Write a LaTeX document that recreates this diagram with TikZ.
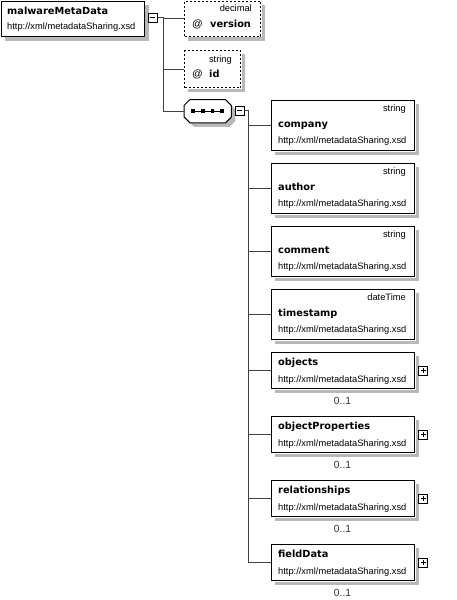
\documentclass[tikz,border=0pt]{standalone}
\usepackage{fontspec}
\setmainfont{Liberation Sans}
\newfontfamily\namefont{DejaVu Sans}
\usetikzlibrary{calc}
\definecolor{shad}{HTML}{B8B8B8}
\definecolor{connc}{HTML}{404040}
\tikzset{
  bx/.style={draw=black, fill=white, line width=1pt, inner sep=0pt, anchor=north west},
  attbox/.style={bx, dash pattern=on 2pt off 2pt},
  nm/.style={font=\namefont\bfseries\fontsize{9.8}{11}\selectfont, inner sep=0pt, anchor=base west},
  url/.style={font=\fontsize{9.3}{11}\selectfont, inner sep=0pt, anchor=base west},
  typ/.style={font=\fontsize{9.3}{11}\selectfont, inner sep=0pt, anchor=base east},
  atsign/.style={font=\fontsize{10.5}{11}\selectfont, inner sep=0pt, anchor=base west},
  occ/.style={font=\fontsize{10.3}{11}\selectfont, inner sep=0pt, anchor=base, text=black!80},
  tog/.style={draw=black, fill=white, line width=1pt, minimum size=9pt, inner sep=0pt},
  connl/.style={draw=connc, line width=1pt},
  shadowfill/.style={fill=shad, draw=none},
}
\newcommand{\boxshadow}[1]{%
  \fill[shadowfill] ($(#1.north east)+(0.5,4)$) rectangle ($(#1.south east)+(4,4)$);
  \fill[shadowfill] ($(#1.south west)+(4,0.5)$) rectangle ($(#1.south east)+(4,4)$);
}
\begin{document}
\begin{tikzpicture}[x=1pt,y=-1pt]
\useasboundingbox (0,0) rectangle (456,600);
\fill[white] (0,0) rectangle (456,600);

% root
\node[bx, minimum width=143pt, minimum height=35pt] (root) at (0.5,0.5) {};
\boxshadow{root}
\node[nm] (rootN) at (7,14) {malwareMetaData};
\node[url] (rootU) at (7,29) {http://xml/metadataSharing.xsd};
\node[tog] (rootT) at (152.8,17.8) {};
\draw[line width=1pt] ($(rootT.center)+(-2.5,0)$) -- ($(rootT.center)+(2.5,0)$);

% attributes
\node[attbox, minimum width=76pt, minimum height=35pt] (version) at (184,0.5) {};
\boxshadow{version}
\node[typ] (versionT) at (252,11) {decimal};
\node[atsign] (versionA) at (192,27) {@};
\node[nm] (versionN) at (210,27) {version};

\node[attbox, minimum width=56pt, minimum height=37pt] (id) at (184,50) {};
\boxshadow{id}
\node[typ] (idT) at (232,62) {string};
\node[atsign] (idA) at (192,77) {@};
\node[nm] (idN) at (209,77) {id};

% sequence
\node[inner sep=0pt, minimum width=47pt, minimum height=23pt, anchor=north west] (seq) at (184,99.5) {};
\fill[shadowfill] ($(seq.north west)+(10,4)$) -- ($(seq.north east)+(-2,4)$) -- ($(seq.north east)+(4,10)$)
  -- ($(seq.south east)+(4,-2)$) -- ($(seq.south east)+(-2,4)$) -- ($(seq.south west)+(10,4)$)
  -- ($(seq.south west)+(4,-2)$) -- ($(seq.north west)+(4,10)$) -- cycle;
\draw[line width=1pt, fill=white] ($(seq.north west)+(6,0)$) -- ($(seq.north east)+(-6,0)$) -- ($(seq.north east)+(0,6)$)
  -- ($(seq.south east)+(0,-6)$) -- ($(seq.south east)+(-6,0)$) -- ($(seq.south west)+(6,0)$)
  -- ($(seq.south west)+(0,-6)$) -- ($(seq.north west)+(0,6)$) -- cycle;
\draw[line width=1pt] ($(seq.center)+(-14.5,0)$) -- ($(seq.center)+(14,0)$);
\foreach \dx in {-14.5,-4.8,4.6,14} {
  \fill ($(seq.center)+(\dx,0)+(-1.8,-1.8)$) rectangle ($(seq.center)+(\dx,0)+(1.8,1.8)$);
}
\node[tog] (seqT) at (239.7,110.8) {};
\draw[line width=1pt] ($(seqT.center)+(-2.5,0)$) -- ($(seqT.center)+(2.5,0)$);

% connectors from root
\coordinate (j1) at (163,17.8);
\draw[connl] (rootT.east) -- (j1) |- (version.west);
\draw[connl] (j1) |- (id.west);
\draw[connl] (j1) |- (seq.west);

% child elements with type
\foreach \n/\t/\ty in {company/string/100, author/string/163, comment/string/226, timestamp/dateTime/289} {
  \node[bx, minimum width=143pt, minimum height=50pt] (\n) at (271,\ty) {};
  \boxshadow{\n}
  \node[typ] (\n T) at (406,\ty+11) {\t};
  \node[nm] (\n N) at (278,\ty+27) {\n};
  \node[url] (\n U) at (278,\ty+43.5) {http://xml/metadataSharing.xsd};
}
% child elements complex
\foreach \n/\ty in {objects/352, objectProperties/416, relationships/480, fieldData/544} {
  \node[bx, minimum width=143pt, minimum height=36pt] (\n) at (271,\ty) {};
  \boxshadow{\n}
  \node[nm] (\n N) at (278,\ty+13) {\n};
  \node[url] (\n U) at (278,\ty+30) {http://xml/metadataSharing.xsd};
  \node[occ] (\n O) at (342.5,\ty+52.5) {0..1};
  \node[tog] (\n P) at ($(\n.east)+(8,0)$) {};
  \draw[line width=1pt] ($(\n P.center)+(-2.5,0)$) -- ($(\n P.center)+(2.5,0)$);
  \draw[line width=1pt] ($(\n P.center)+(0,-2.5)$) -- ($(\n P.center)+(0,2.5)$);
}

% connectors from sequence
\coordinate (j2) at (248.5,110.8);
\draw[connl] (seqT.east) -- (j2);
\foreach \n in {company,author,comment,timestamp,objects,objectProperties,relationships,fieldData} {
  \draw[connl] (j2) |- (\n.west);
}
\end{tikzpicture}
\end{document}
